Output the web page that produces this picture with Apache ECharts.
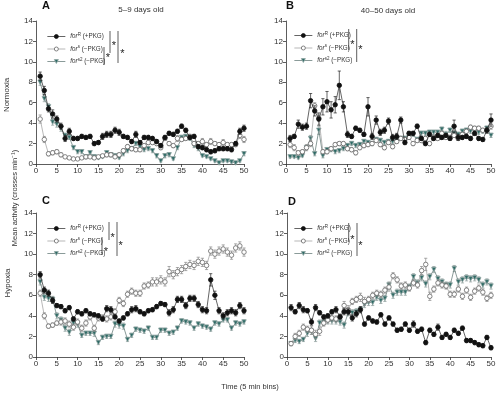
<!DOCTYPE html>
<html>
<head>
<meta charset="utf-8">
<script src="https://cdn.jsdelivr.net/npm/echarts@6/dist/echarts.min.js"></script>
<style>
html, body { margin: 0; padding: 0; background: #fff; }
#chart { width: 499px; height: 395px; }
</style>
</head>
<body>
<div id="chart"></div>
<script>
// 5 min bins
var bins = [1,2,3,4,5,6,7,8,9,10,11,12,13,14,15,16,17,18,19,20,21,22,23,24,25,
            26,27,28,29,30,31,32,33,34,35,36,37,38,39,40,41,42,43,44,45,46,47,48,49,50];
var xTicks = [0,5,10,15,20,25,30,35,40,45,50];
var yTicks = [0,2,4,6,8,10,12,14];

// A: normoxia, 5-9 days old
var A_R   = [8.6,7.2,5.4,4.9,4.4,3.7,2.5,3.2,2.5,2.5,2.7,2.6,2.7,2.0,2.1,2.7,2.9,2.9,3.3,3.1,2.7,2.6,2.2,2.9,2.1,2.6,2.6,2.5,2.2,1.8,2.6,3.0,2.9,3.2,3.7,3.3,2.6,2.7,1.7,1.6,1.4,1.2,1.3,1.5,1.5,1.5,1.4,2.0,3.2,3.5];
var A_Re  = [0.4,0.4,0.3,0.4,0.3,0.3,0.3,0.3,0.2,0.2,0.2,0.2,0.2,0.2,0.2,0.3,0.3,0.3,0.3,0.3,0.2,0.2,0.2,0.3,0.2,0.2,0.2,0.2,0.2,0.2,0.2,0.2,0.2,0.2,0.2,0.2,0.2,0.2,0.2,0.2,0.2,0.2,0.2,0.2,0.2,0.2,0.2,0.2,0.3,0.3];
var A_S   = [4.4,2.4,1.0,1.1,1.2,0.9,0.7,0.6,0.5,0.5,0.6,0.7,0.7,0.6,0.7,0.8,0.9,0.9,0.7,0.9,1.3,1.7,1.5,1.4,1.4,1.8,2.1,2.1,2.0,1.6,2.5,2.0,1.8,2.5,2.4,2.5,2.7,2.0,2.0,2.2,1.9,2.2,2.0,1.9,2.1,1.9,1.9,1.9,2.8,2.4];
var A_Se  = [0.4,0.3,0.2,0.2,0.2,0.2,0.1,0.1,0.1,0.1,0.1,0.1,0.1,0.1,0.1,0.1,0.2,0.2,0.1,0.2,0.2,0.2,0.2,0.2,0.2,0.2,0.2,0.2,0.2,0.2,0.2,0.2,0.2,0.3,0.2,0.2,0.2,0.2,0.2,0.3,0.2,0.3,0.2,0.2,0.3,0.2,0.2,0.2,0.3,0.3];
var A_G   = [8.0,6.4,5.6,4.1,3.9,3.5,2.8,2.6,1.6,1.2,1.2,0.7,1.1,0.7,0.6,0.7,1.1,0.9,0.8,0.6,1.0,1.3,1.5,2.0,1.7,1.4,1.5,1.3,0.8,0.3,0.8,0.9,0.5,1.6,2.6,2.7,2.5,1.8,1.5,0.8,0.7,0.5,0.3,0.1,0.3,0.3,0.2,0.1,0.3,1.0];
var A_Ge  = [0.3,0.3,0.3,0.3,0.3,0.3,0.2,0.2,0.2,0.2,0.2,0.2,0.2,0.2,0.1,0.1,0.2,0.2,0.2,0.1,0.2,0.2,0.2,0.2,0.2,0.2,0.2,0.2,0.2,0.1,0.2,0.2,0.1,0.2,0.2,0.2,0.2,0.2,0.2,0.1,0.1,0.1,0.1,0.1,0.1,0.1,0.1,0.1,0.1,0.2];

// B: normoxia, 40-50 days old
var B_R   = [2.5,2.7,3.9,3.6,3.7,6.2,5.2,4.4,5.6,6.1,5.3,5.8,7.7,5.6,2.9,2.7,3.5,3.3,2.9,5.6,2.7,4.3,3.1,3.3,4.2,2.6,2.7,4.3,2.1,3.0,3.0,3.7,2.5,2.0,2.9,2.5,2.8,2.6,2.8,2.5,3.7,2.6,2.6,2.7,2.5,3.0,2.5,2.4,3.3,4.3];
var B_Re  = [0.3,0.2,0.4,0.3,0.3,0.7,0.5,0.6,0.8,1.0,0.8,0.8,1.4,0.5,0.3,0.2,0.2,0.2,0.2,0.9,0.3,0.4,0.3,0.3,0.3,0.3,0.3,0.3,0.2,0.2,0.2,0.2,0.2,0.2,0.2,0.2,0.2,0.2,0.2,0.2,0.6,0.3,0.2,0.2,0.2,0.2,0.2,0.2,0.3,0.6];
var B_S   = [1.9,1.6,1.1,1.2,1.6,2.0,5.7,4.5,1.2,1.2,1.5,1.9,2.0,2.0,1.5,1.4,1.1,1.6,1.8,1.9,2.0,2.3,1.9,1.6,2.1,1.7,2.2,2.5,2.4,2.6,2.0,2.3,2.3,2.5,2.0,2.6,2.5,3.0,2.6,2.6,2.8,2.5,2.9,3.2,3.6,3.5,3.5,3.3,3.3,3.7];
var B_Se  = [0.3,0.3,0.2,0.2,0.3,0.3,0.3,0.3,0.2,0.2,0.2,0.2,0.2,0.2,0.2,0.2,0.2,0.2,0.2,0.2,0.2,0.2,0.2,0.2,0.2,0.2,0.2,0.2,0.2,0.2,0.2,0.2,0.2,0.2,0.2,0.2,0.2,0.2,0.2,0.2,0.2,0.2,0.2,0.2,0.2,0.2,0.2,0.2,0.2,0.3];
var B_G   = [0.7,0.7,0.6,0.8,1.6,2.5,1.0,3.3,0.8,1.4,1.4,1.2,1.3,1.5,1.8,2.0,1.8,1.9,2.2,2.1,2.0,2.4,2.3,2.1,2.2,2.2,2.4,2.5,2.5,2.6,2.9,2.4,3.0,3.0,3.1,3.1,3.1,3.4,2.9,3.3,3.0,2.9,3.2,3.3,3.2,3.4,3.1,3.2,3.5,2.8];
var B_Ge  = [0.1,0.1,0.1,0.1,0.2,0.3,0.2,0.4,0.2,0.2,0.2,0.2,0.2,0.2,0.2,0.2,0.2,0.2,0.2,0.2,0.2,0.2,0.2,0.2,0.2,0.2,0.2,0.2,0.2,0.2,0.2,0.2,0.2,0.2,0.2,0.2,0.2,0.2,0.3,0.2,0.2,0.2,0.2,0.2,0.2,0.2,0.2,0.2,0.2,0.2];

// C: hypoxia, 5-9 days old
var C_R   = [8.0,6.5,6.2,5.5,5.0,4.9,4.5,4.8,3.7,4.4,4.2,4.5,4.2,4.1,4.0,3.7,4.7,4.6,3.9,3.5,3.8,4.2,4.6,4.7,4.4,4.2,4.5,4.6,4.9,5.2,5.1,4.3,4.6,5.6,5.6,5.0,5.7,5.7,5.1,4.6,4.5,7.5,6.0,4.5,4.0,4.3,4.5,4.3,5.0,4.5];
var C_Re  = [0.3,0.3,0.3,0.3,0.2,0.2,0.2,0.2,0.2,0.2,0.2,0.2,0.2,0.2,0.2,0.2,0.3,0.3,0.2,0.2,0.2,0.2,0.3,0.3,0.2,0.2,0.2,0.2,0.2,0.2,0.2,0.3,0.3,0.3,0.3,0.3,0.3,0.3,0.3,0.3,0.3,0.6,0.4,0.3,0.3,0.3,0.3,0.3,0.3,0.3];
var C_S   = [6.2,4.0,3.0,3.1,3.3,3.4,3.5,3.2,2.9,3.4,2.8,3.3,3.9,2.8,3.8,3.8,3.7,3.9,4.4,5.5,5.2,6.1,6.4,6.2,6.2,6.9,7.0,7.3,7.3,7.5,7.3,8.3,8.0,8.3,8.5,8.8,9.0,8.9,9.3,9.2,8.9,10.3,10.0,10.3,10.5,10.2,9.9,10.6,10.8,10.2];
var C_Se  = [0.3,0.3,0.2,0.2,0.2,0.3,0.3,0.3,0.3,0.3,0.3,0.3,0.3,0.3,0.3,0.3,0.3,0.3,0.3,0.3,0.3,0.3,0.3,0.3,0.3,0.3,0.3,0.4,0.4,0.4,0.4,0.5,0.4,0.4,0.4,0.4,0.4,0.4,0.4,0.4,0.4,0.4,0.4,0.4,0.4,0.4,0.4,0.4,0.4,0.4];
var C_G   = [7.3,5.8,5.7,5.6,4.0,3.6,2.8,2.4,3.3,3.2,2.1,2.3,2.3,2.3,1.4,1.9,2.0,2.0,3.2,3.1,3.0,1.7,2.1,2.7,2.6,2.5,2.8,1.9,1.9,2.6,2.6,2.3,2.4,2.8,3.5,3.4,3.3,2.8,3.2,3.0,2.9,2.7,3.3,3.2,3.6,3.6,2.8,3.3,3.2,3.4];
var C_Ge  = [0.3,0.3,0.3,0.3,0.3,0.3,0.3,0.3,0.3,0.3,0.2,0.2,0.2,0.3,0.2,0.2,0.2,0.2,0.3,0.3,0.3,0.2,0.2,0.2,0.2,0.2,0.2,0.2,0.2,0.2,0.2,0.2,0.2,0.2,0.2,0.2,0.2,0.2,0.2,0.2,0.2,0.2,0.2,0.2,0.2,0.2,0.2,0.2,0.2,0.2];

// D: hypoxia, 40-50 days old
var D_R   = [4.8,4.4,5.0,4.6,4.5,3.4,4.8,4.3,3.9,4.0,4.4,4.6,3.9,4.4,4.4,3.8,4.2,4.6,3.2,3.8,3.5,3.4,4.1,3.2,3.8,3.2,2.6,2.7,3.2,2.6,3.2,2.5,2.7,1.4,2.6,2.2,2.9,1.9,2.2,1.9,2.6,2.3,2.8,1.6,1.6,1.4,1.2,1.1,1.9,0.9];
var D_Re  = [0.3,0.2,0.3,0.3,0.2,0.3,0.3,0.2,0.2,0.2,0.2,0.3,0.2,0.3,0.3,0.3,0.3,0.3,0.2,0.2,0.2,0.2,0.2,0.2,0.2,0.2,0.2,0.2,0.2,0.2,0.3,0.2,0.2,0.2,0.2,0.2,0.3,0.2,0.2,0.2,0.2,0.2,0.2,0.2,0.2,0.2,0.2,0.2,0.2,0.2];
var D_S   = [1.3,2.0,2.3,2.9,2.7,2.6,2.2,2.5,3.3,3.6,3.8,3.7,3.9,5.0,4.6,5.4,5.6,5.8,5.4,5.6,6.0,6.2,6.1,6.5,6.8,7.9,7.5,6.9,7.0,6.7,7.2,7.0,8.4,9.0,5.9,6.6,7.2,7.0,6.9,6.1,6.1,6.6,5.9,6.5,5.8,6.4,6.7,6.3,5.7,6.0];
var D_Se  = [0.2,0.3,0.3,0.3,0.3,0.4,0.4,0.4,0.3,0.3,0.3,0.3,0.3,0.4,0.4,0.3,0.3,0.4,0.4,0.3,0.3,0.3,0.3,0.3,0.4,0.3,0.3,0.3,0.3,0.3,0.3,0.3,0.4,0.6,0.4,0.3,0.3,0.3,0.3,0.3,0.3,0.3,0.3,0.3,0.3,0.3,0.3,0.3,0.3,0.3];
var D_G   = [1.3,1.6,1.5,1.7,2.3,2.5,1.8,3.3,3.4,3.5,3.5,3.5,3.4,3.1,4.3,4.3,4.4,4.6,5.1,5.3,5.3,5.8,5.5,5.7,7.0,6.0,6.3,6.3,6.3,6.8,7.8,7.2,7.7,7.1,7.8,8.5,7.6,7.3,7.0,7.0,8.6,7.3,7.5,7.7,7.6,7.7,7.5,7.0,7.3,6.9];
var D_Ge  = [0.2,0.2,0.2,0.2,0.3,0.3,0.3,0.3,0.3,0.3,0.3,0.3,0.3,0.3,0.3,0.3,0.3,0.3,0.3,0.3,0.3,0.3,0.3,0.3,0.3,0.3,0.3,0.3,0.3,0.3,0.3,0.3,0.3,0.3,0.3,0.3,0.3,0.3,0.3,0.3,0.3,0.3,0.3,0.3,0.3,0.3,0.3,0.3,0.3,0.3];

var chart = echarts.init(document.getElementById('chart'));

var FONT = 'Liberation Sans, Arial, sans-serif';
var names = ['R', 'S', 'S2'];
var legendText = {
    'R': '{i|for}{sup|R} (+PKG)',
    'S': '{i|for}{sup|s} (\u2212PKG)',
    'S2': '{i|for}{sup|s2} (\u2212PKG)'
};

// style of each group
var styles = {
    R:  { line: '#222', fill: '#111', border: '#111', symbol: 'circle', rotate: 0, err: '#222', z: 5 },
    S:  { line: '#999', fill: '#fff', border: '#666', symbol: 'circle', rotate: 0, err: '#888', z: 4 },
    S2: { line: '#57706d', fill: '#2e6b66', border: '#8fa5a2', symbol: 'triangle', rotate: 180, err: '#8a9a98', z: 3 }
};

var grids = [
    { left: 36, top: 21, width: 208, height: 143 },
    { left: 286, top: 21, width: 205, height: 143 },
    { left: 36, top: 213, width: 208, height: 144 },
    { left: 287, top: 213, width: 204, height: 144 }
];

var panels = [
    { R: A_R, Re: A_Re, S: A_S, Se: A_Se, S2: A_G, S2e: A_Ge },
    { R: B_R, Re: B_Re, S: B_S, Se: B_Se, S2: B_G, S2e: B_Ge },
    { R: C_R, Re: C_Re, S: C_S, Se: C_Se, S2: C_G, S2e: C_Ge },
    { R: D_R, Re: D_Re, S: D_S, Se: D_Se, S2: D_G, S2e: D_Ge }
];

var axisLine = { show: true, lineStyle: { color: '#333', width: 0.8 } };
var axisTick = { show: true, inside: false, length: 3, lineStyle: { color: '#333', width: 0.8 } };
var axisLabel = { fontSize: 8, color: '#333', fontFamily: FONT, margin: 3 };

var xAxes = [], yAxes = [], series = [], legends = [];

function errRender(color) {
    return function (params, api) {
        var x = api.value(0), y = api.value(1), e = api.value(2);
        var top = api.coord([x, y + e]);
        var bot = api.coord([x, y - e]);
        var hw = 1.6;
        var st = { stroke: color, lineWidth: 0.7 };
        return {
            type: 'group',
            children: [
                { type: 'line', shape: { x1: top[0], y1: top[1], x2: bot[0], y2: bot[1] }, style: st },
                { type: 'line', shape: { x1: top[0] - hw, y1: top[1], x2: top[0] + hw, y2: top[1] }, style: st },
                { type: 'line', shape: { x1: bot[0] - hw, y1: bot[1], x2: bot[0] + hw, y2: bot[1] }, style: st }
            ]
        };
    };
}

panels.forEach(function (p, k) {
    xAxes.push({
        type: 'value', gridIndex: k, min: 0, max: 50, interval: 5,
        axisLine: axisLine, axisTick: axisTick, axisLabel: axisLabel, splitLine: { show: false }
    });
    yAxes.push({
        type: 'value', gridIndex: k, min: 0, max: 14, interval: 2,
        axisLine: axisLine, axisTick: axisTick, axisLabel: axisLabel, splitLine: { show: false }
    });
    // draw green first, black on top
    ['S2', 'S', 'R'].forEach(function (key) {
        var st = styles[key];
        var vals = p[key], errs = p[key === 'R' ? 'Re' : key === 'S' ? 'Se' : 'S2e'];
        var pts = [], epts = [];
        for (var i = 0; i < bins.length; i++) {
            pts.push([bins[i], vals[i]]);
            epts.push([bins[i], vals[i], errs[i]]);
        }
        series.push({
            type: 'custom', xAxisIndex: k, yAxisIndex: k, z: st.z,
            renderItem: errRender(st.err), data: epts, silent: true,
            encode: { x: 0, y: 1 }
        });
        series.push({
            name: key, type: 'line', xAxisIndex: k, yAxisIndex: k, z: st.z,
            data: pts, symbol: st.symbol, symbolRotate: st.rotate,
            symbolSize: 4.5, showSymbol: true,
            lineStyle: { color: st.line, width: 0.7 },
            itemStyle: { color: st.fill, borderColor: st.border, borderWidth: 0.8 },
            animation: false
        });
    });
});

var legendPos = [
    { left: 42, top: 27 }, { left: 289, top: 26 },
    { left: 42, top: 219 }, { left: 289, top: 219 }
];
legendPos.forEach(function (lp) {
    legends.push({
        left: lp.left, top: lp.top, orient: 'vertical',
        itemWidth: 18, itemHeight: 5, itemGap: 3.5,
        data: names,
        lineStyle: { width: 0.7 },
        itemStyle: { borderWidth: 0.8 },
        formatter: function (n) { return legendText[n]; },
        textStyle: {
            fontSize: 6.3, color: '#333', fontFamily: FONT, lineHeight: 9,
            rich: {
                i: { fontSize: 6.3, fontStyle: 'italic', color: '#333', fontFamily: FONT },
                sup: { fontSize: 4.5, verticalAlign: 'top', color: '#333', fontFamily: FONT, lineHeight: 5 }
            }
        }
    });
});

// significance brackets and stars
function bar(x, y1, y2) {
    return { type: 'line', shape: { x1: x, y1: y1, x2: x, y2: y2 }, style: { stroke: '#333', lineWidth: 0.8 } };
}
function star(x, y) {
    return { type: 'text', x: x, y: y, style: { text: '*', fontSize: 11, fill: '#222', fontFamily: FONT, align: 'center', verticalAlign: 'middle' } };
}
function txt(x, y, s, size, opts) {
    var o = { type: 'text', x: x, y: y,
        style: { text: s, fontSize: size, fill: '#333', fontFamily: FONT, align: 'center', verticalAlign: 'middle' } };
    if (opts) {
        for (var k in opts) o.style[k] = opts[k];
    }
    return o;
}

var graphic = [
    bar(110, 31, 53), star(114, 46), bar(118, 31, 63), star(122.5, 54), bar(104, 47, 65), star(108, 58),
    bar(348.7, 29, 50), star(352.5, 45), bar(356.7, 29, 62), star(360.5, 50),
    bar(109, 222, 240), star(112.7, 238), bar(117, 222, 256), star(120.7, 246), bar(102, 237, 255), star(106, 252),
    bar(348.7, 223, 242), star(352.5, 239.5), bar(357, 223, 256), star(360.5, 246),
    txt(46, 6, 'A', 11, { fontWeight: 'bold', fill: '#111' }),
    txt(290, 6, 'B', 11, { fontWeight: 'bold', fill: '#111' }),
    txt(46, 201, 'C', 11, { fontWeight: 'bold', fill: '#111' }),
    txt(292, 202, 'D', 11, { fontWeight: 'bold', fill: '#111' }),
    txt(141, 10, '5\u20139 days old', 8),
    txt(388, 11, '40\u201350 days old', 8),
    txt(250, 387, 'Time (5 min bins)', 7.5),
    { type: 'text', x: 7, y: 95, rotation: Math.PI / 2,
      style: { text: 'Normoxia', fontSize: 8, fill: '#333', fontFamily: FONT, align: 'center', verticalAlign: 'middle' } },
    { type: 'text', x: 8, y: 283, rotation: Math.PI / 2,
      style: { text: 'Hypoxia', fontSize: 8, fill: '#333', fontFamily: FONT, align: 'center', verticalAlign: 'middle' } },
    { type: 'text', x: 15, y: 198, rotation: Math.PI / 2,
      style: { text: 'Mean activity (crosses min\u207B\u00B9)', fontSize: 7.5, fill: '#333', fontFamily: FONT, align: 'center', verticalAlign: 'middle' } }
];

chart.setOption({
    animation: false,
    backgroundColor: '#fff',
    grid: grids,
    xAxis: xAxes,
    yAxis: yAxes,
    legend: legends,
    series: series,
    graphic: graphic
});
</script>
</body>
</html>
